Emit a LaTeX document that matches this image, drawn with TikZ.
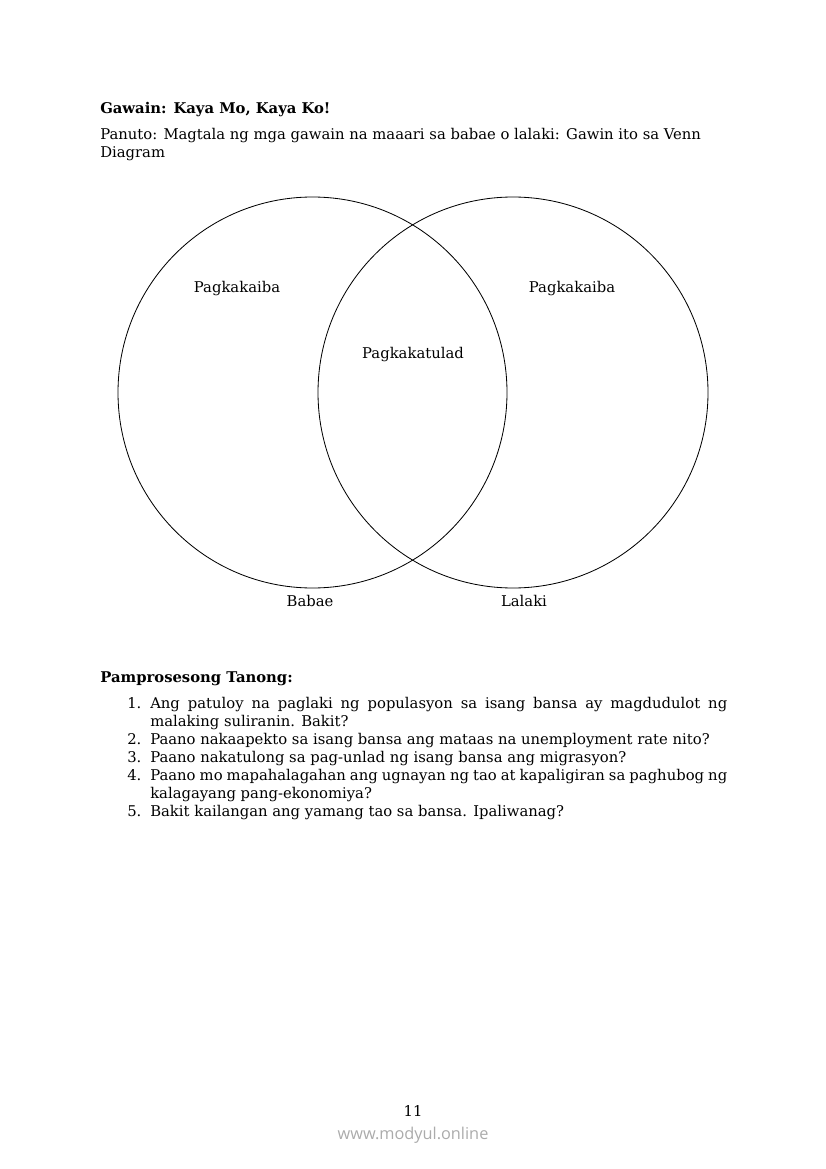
\documentclass[tikz,border=0pt]{standalone}
\usepackage{fontspec}
\setmainfont{DejaVu Serif}
\newfontfamily\wmfont{Open Sans}
\newcommand{\bodysize}{\fontsize{10.7}{13}\selectfont}
\begin{document}
\begin{tikzpicture}[x=0.25424mm,y=-0.25424mm,
  txt/.style={anchor=base west,inner sep=0pt,font=\bodysize},
  lbl/.style={anchor=base,inner sep=0pt,font=\bodysize},
  setline/.style={line width=0.6pt}]
\useasboundingbox (0,0) rectangle (826,1169);
% heading
\node[txt,font=\bodysize\bfseries] (title) at (100,114) {Gawain: Kaya Mo, Kaya Ko!};
\node[txt] (panuto) at (100,140) {Panuto: Magtala ng mga gawain na maaari sa babae o lalaki: Gawin ito sa Venn};
\node[txt] (panuto2) at (100,158) {Diagram};
% venn diagram
\draw[setline] (312.5,392.5) ellipse [x radius=194.5,y radius=195.5];
\draw[setline] (513,392.5) ellipse [x radius=195,y radius=195.5];
\node[lbl] (ibaL) at (237,293) {Pagkakaiba};
\node[lbl] (ibaR) at (572,293) {Pagkakaiba};
\node[lbl] (tulad) at (413,358) {Pagkakatulad};
\node[lbl] (babae) at (310,606) {Babae};
\node[lbl] (lalaki) at (524,606) {Lalaki};
% tanong
\node[txt,font=\bodysize\bfseries] (tanong) at (100,682) {Pamprosesong Tanong:};
\node[txt] (n1) at (127,708) {1.};
\node[txt] (q1) at (150,708) {\makebox[146.7mm][s]{Ang patuloy na paglaki ng populasyon sa isang bansa ay magdudulot ng}};
\node[txt] (q1b) at (150,726) {malaking suliranin. Bakit?};
\node[txt] (n2) at (127,744) {2.};
\node[txt] (q2) at (150,744) {Paano nakaapekto sa isang bansa ang mataas na unemployment rate nito?};
\node[txt] (n3) at (127,762) {3.};
\node[txt] (q3) at (150,762) {Paano nakatulong sa pag-unlad ng isang bansa ang migrasyon?};
\node[txt] (n4) at (127,780) {4.};
\node[txt] (q4) at (150,780) {\makebox[146.7mm][s]{Paano mo mapahalagahan ang ugnayan ng tao at kapaligiran sa paghubog ng}};
\node[txt] (q4b) at (150,798) {kalagayang pang-ekonomiya?};
\node[txt] (n5) at (127,816) {5.};
\node[txt] (q5) at (150,816) {Bakit kailangan ang yamang tao sa bansa. Ipaliwanag?};
% footer
\node[lbl] (page) at (413,1116) {11};
\node[lbl,font=\wmfont\fontsize{11.8}{13}\selectfont,text=black!33] (site) at (413,1139) {www.modyul.online};
\end{tikzpicture}
\end{document}
